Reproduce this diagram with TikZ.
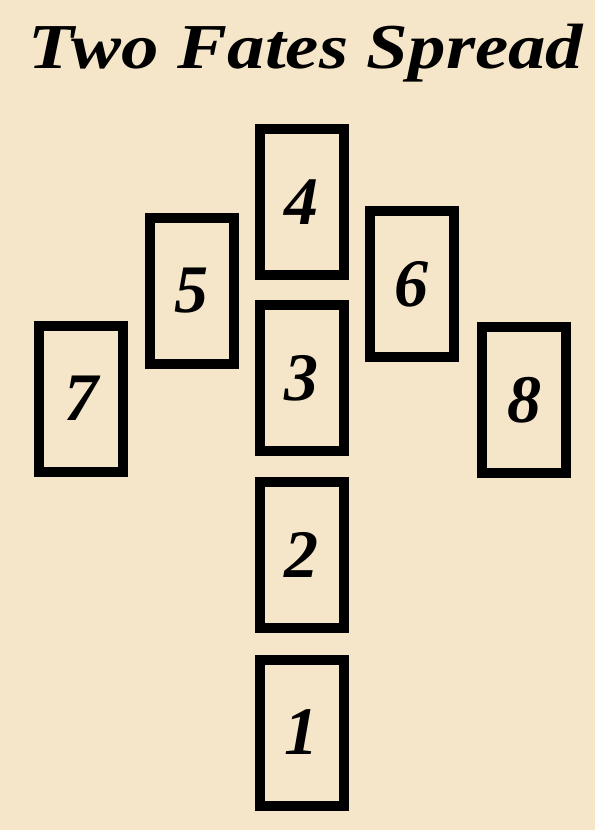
\documentclass[tikz,border=0pt]{standalone}
\usepackage{fontspec}
\newfontfamily\titlefont{Liberation Serif}
\definecolor{parchment}{RGB}{245,230,202}
\tikzset{
  card/.style={draw=black, line width=10pt, minimum width=84pt, minimum height=146pt, inner sep=0pt, font=\titlefont\fontsize{68}{68}\selectfont\bfseries\itshape, text=black},
}
\begin{document}
\begin{tikzpicture}[x=1pt,y=-1pt]
\useasboundingbox (0,0) rectangle (595,830);
\fill[parchment] (0,0) rectangle (595,830);
\node[font=\titlefont\fontsize{64}{64}\selectfont\bfseries\itshape, anchor=base, xscale=1.17] (title) at (306,68) {Two Fates Spread};
\node[card] (c4) at (301.5,202) {4};
\node[card] (c3) at (301.5,378) {3};
\node[card] (c2) at (301.5,554.5) {2};
\node[card] (c1) at (301.5,732.5) {1};
\node[card] (c5) at (191.5,290.5) {5};
\node[card] (c6) at (411.5,284) {6};
\node[card] (c7) at (81,398.5) {7};
\node[card] (c8) at (524,400) {8};
\end{tikzpicture}
\end{document}
